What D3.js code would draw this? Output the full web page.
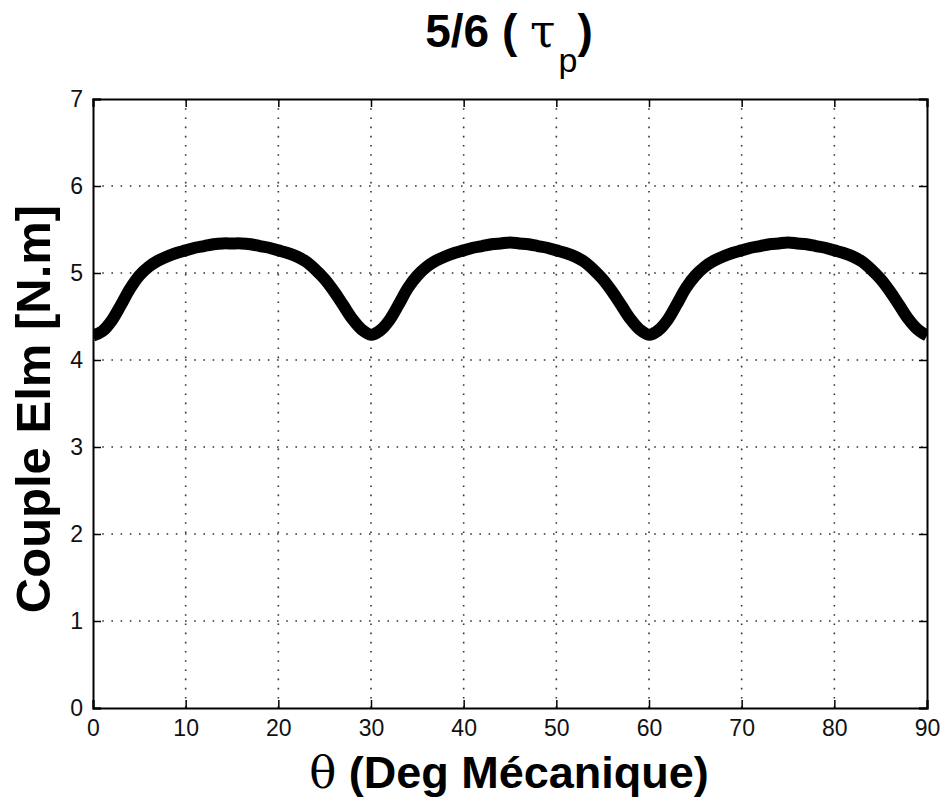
<!DOCTYPE html>
<html>
<head>
<meta charset="utf-8">
<script src="https://cdn.jsdelivr.net/npm/d3@7"></script>
<style>
  body { margin: 0; background: #fff; }
  svg { display: block; }
  .tick-label { font-family: "Liberation Sans", Arial, sans-serif; font-size: 23px; fill: #111; }
  .bold { font-family: "Liberation Sans", Arial, sans-serif; font-weight: bold; fill: #000; }
</style>
</head>
<body>
<svg width="941" height="800"></svg>
<script>
// angle (deg mecanique)
const theta = [
  0, 1, 2, 3, 4, 5, 6, 7, 8, 9, 10, 11, 12, 13, 14, 15, 16, 17, 18, 19, 20, 21, 22, 23, 24, 25, 26, 27, 28, 29,
  30, 31, 32, 33, 34, 35, 36, 37, 38, 39, 40, 41, 42, 43, 44, 45, 46, 47, 48, 49, 50, 51, 52, 53, 54, 55, 56, 57, 58, 59,
  60, 61, 62, 63, 64, 65, 66, 67, 68, 69, 70, 71, 72, 73, 74, 75, 76, 77, 78, 79, 80, 81, 82, 83, 84, 85, 86, 87, 88, 89, 90
];

// couple electromagnetique [N.m]
const couple = [
  4.28, 4.33, 4.45, 4.63, 4.82, 4.97, 5.07, 5.14, 5.19, 5.23, 5.26, 5.29, 5.31, 5.33, 5.34, 5.34, 5.34, 5.33, 5.31, 5.29,
  5.26, 5.23, 5.19, 5.13, 5.04, 4.93, 4.79, 4.63, 4.47, 4.35,
  4.29, 4.34, 4.46, 4.64, 4.83, 4.97, 5.07, 5.14, 5.19, 5.23, 5.26, 5.29, 5.31, 5.33, 5.34, 5.35, 5.34, 5.33, 5.31, 5.29,
  5.26, 5.23, 5.19, 5.13, 5.04, 4.93, 4.79, 4.63, 4.47, 4.35,
  4.29, 4.34, 4.46, 4.64, 4.83, 4.97, 5.07, 5.14, 5.19, 5.23, 5.26, 5.29, 5.31, 5.33, 5.34, 5.35, 5.34, 5.33, 5.31, 5.29,
  5.26, 5.23, 5.19, 5.13, 5.04, 4.93, 4.79, 4.63, 4.47, 4.35, 4.28
];

const xTicks = [0, 10, 20, 30, 40, 50, 60, 70, 80, 90];
const yTicks = [0, 1, 2, 3, 4, 5, 6, 7];

const svg = d3.select('svg');

// plot box
const boxL = 93, boxR = 927, boxT = 99, boxB = 708;

const x = d3.scaleLinear().domain([0, 90]).range([boxL, boxR]);
const y = d3.scaleLinear().domain([0, 7]).range([boxB, boxT]);

// dotted grid
const grid = svg.append('g');
grid.selectAll('line.gx')
  .data(xTicks.slice(1, -1))
  .enter().append('line')
  .attr('x1', d => x(d)).attr('x2', d => x(d))
  .attr('y1', boxT).attr('y2', boxB)
  .attr('stroke', '#333').attr('stroke-width', 1.6)
  .attr('stroke-dasharray', '1.6,7.6');
grid.selectAll('line.gy')
  .data(yTicks.slice(1, -1))
  .enter().append('line')
  .attr('x1', boxL).attr('x2', boxR)
  .attr('y1', d => y(d)).attr('y2', d => y(d))
  .attr('stroke', '#333').attr('stroke-width', 1.6)
  .attr('stroke-dasharray', '1.6,7.6');

// the curve
svg.append('clipPath').attr('id', 'clip')
  .append('rect').attr('x', boxL).attr('y', boxT)
  .attr('width', boxR - boxL).attr('height', boxB - boxT);

const line = d3.line()
  .x((d, i) => x(theta[i]))
  .y(d => y(d))
  .curve(d3.curveCatmullRom);

svg.append('path')
  .datum(couple)
  .attr('clip-path', 'url(#clip)')
  .attr('d', line)
  .attr('fill', 'none')
  .attr('stroke', '#000')
  .attr('stroke-width', 12)
  .attr('stroke-linejoin', 'round');

// axes, ticks inside on all four sides
const tickLen = 8;
const fmt = d3.format('d');
const axB = svg.append('g').attr('transform', `translate(0,${boxB})`)
  .call(d3.axisBottom(x).tickValues(xTicks).tickFormat(fmt).tickSize(-tickLen).tickPadding(14));
const axT = svg.append('g').attr('transform', `translate(0,${boxT})`)
  .call(d3.axisTop(x).tickValues(xTicks).tickSize(-tickLen).tickFormat(''));
const axL = svg.append('g').attr('transform', `translate(${boxL},0)`)
  .call(d3.axisLeft(y).tickValues(yTicks).tickFormat(fmt).tickSize(-tickLen).tickPadding(10));
const axR = svg.append('g').attr('transform', `translate(${boxR},0)`)
  .call(d3.axisRight(y).tickValues(yTicks).tickSize(-tickLen).tickFormat(''));

[axB, axT, axL, axR].forEach(a => {
  a.attr('font-size', null).attr('font-family', null);
  a.select('.domain').attr('stroke', '#000').attr('stroke-width', 2);
  a.selectAll('.tick line').attr('stroke', '#000').attr('stroke-width', 1.5);
  a.selectAll('.tick text').attr('class', 'tick-label');
});
axB.selectAll('.tick text').attr('dy', '0.6em');

// title  5/6 ( tau_p )
const title = svg.append('text').attr('class', 'bold')
  .attr('x', 509).attr('y', 47).attr('text-anchor', 'middle')
  .style('font-size', '46px');
title.append('tspan').text('5/6 ( ');
title.append('tspan').style('font-weight', 'normal').style('font-family', 'DejaVu Serif, serif').text('τ');
title.append('tspan').style('font-size', '34px').style('font-weight', 'normal').attr('dx', 3).attr('dy', 25).text('p');
title.append('tspan').attr('dy', -25).text(')');

// x label
const xl = svg.append('text').attr('class', 'bold')
  .attr('x', 509).attr('y', 788).attr('text-anchor', 'middle')
  .style('font-size', '45px');
xl.append('tspan').style('font-weight', 'normal').style('font-family', 'DejaVu Serif, serif').text('θ');
xl.append('tspan').text(' (Deg Mécanique)');

// y label
svg.append('text').attr('class', 'bold')
  .attr('transform', 'translate(50,409) rotate(-90)')
  .attr('text-anchor', 'middle')
  .style('font-size', '49px')
  .text('Couple Elm [N.m]');
</script>
</body>
</html>
